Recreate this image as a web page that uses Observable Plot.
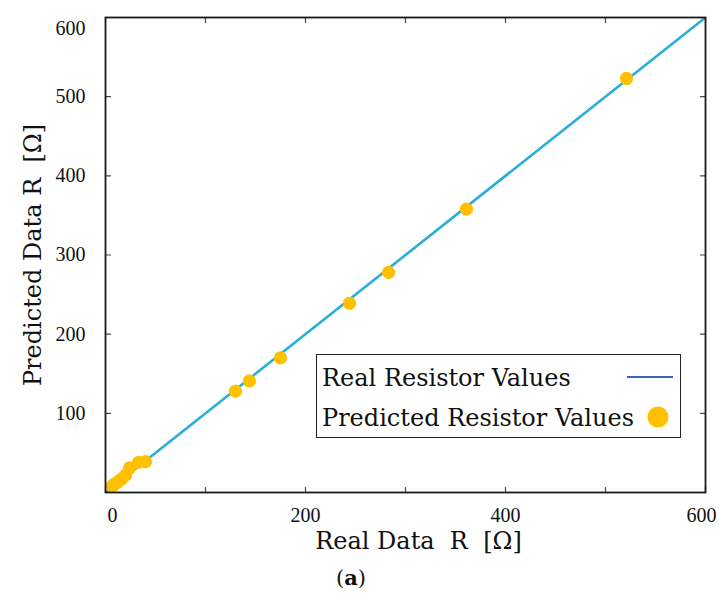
<!DOCTYPE html>
<html>
<head>
<meta charset="utf-8">
<script src="https://cdn.jsdelivr.net/npm/d3@7"></script>
<script src="https://cdn.jsdelivr.net/npm/@observablehq/plot@0.6"></script>
<style>
  body { margin: 0; background: #fff; }
  #wrap { position: relative; width: 719px; height: 599px; font-family: "DejaVu Serif", "Liberation Serif", serif; }
  #legend { position: absolute; left: 316px; top: 354px; width: 363px; height: 82px; border: 1.5px solid #222; background: #fff; }
  .lg { position: absolute; left: 5px; font-size: 24px; line-height: 24px; color: #111; white-space: nowrap; }
  #caption { position: absolute; left: 0; top: 565px; width: 702px; text-align: center; font-size: 21px; color: #111; }
</style>
</head>
<body>
<div id="wrap">
  <div id="chart"></div>
  <div id="legend">
    <div class="lg" style="top:11px">Real Resistor Values</div>
    <svg style="position:absolute;left:310px;top:20px" width="48" height="4"><line x1="0" y1="2" x2="46" y2="2" stroke="#3566b4" stroke-width="2.2"/></svg>
    <div class="lg" style="top:51px">Predicted Resistor Values</div>
    <svg style="position:absolute;left:329px;top:50px" width="24" height="24"><circle cx="12" cy="12" r="10.5" fill="#FFC000"/></svg>
  </div>
  <div id="caption">(<b>a</b>)</div>
</div>
<script>
// Data
const realR = [7, 8, 12, 16, 20, 24, 33, 40, 130, 144, 175, 244, 283, 361, 521];
const predR = [8, 10, 13, 17, 22, 31, 38, 39, 128, 141, 170, 239, 278, 358, 523];
const refLine = [0, 600];           // y = x reference line
const xTicks = [0, 100, 200, 300, 400, 500, 600];
const xLabelsMid = [200, 400];
const yTicks = [0, 100, 200, 300, 400, 500, 600];
const yLabelsMid = [100, 200, 300, 400, 500];
const xTitle = "Real Data\u00a0\u00a0R\u00a0\u00a0[Ω]";
const yTitle = "Predicted Data R\u00a0\u00a0[Ω]";

const points = realR.map((r, i) => ({real: r, pred: predR[i]}));
const lineData = refLine.map(v => ({real: v, pred: v}));

const tickShape = {draw(context, l) { context.moveTo(0, 0); context.lineTo(0, -l); }};
const tickOpts = {length: 5, anchor: "start", shape: tickShape, stroke: "#444", strokeWidth: 1.2};
const tickFont = {fontSize: 20, fontFamily: "'Liberation Serif', serif", tickSize: 0, label: null};
const titleFont = {fontSize: 24, fontFamily: "'DejaVu Serif', serif", fill: "#111"};

const chart = Plot.plot({
  width: 719,
  height: 560,
  marginLeft: 105,
  marginRight: 14,
  marginTop: 17,
  marginBottom: 68,
  style: {fontFamily: "'Liberation Serif', serif", color: "#111", background: "#fff"},
  x: {domain: [0, 600]},
  y: {domain: [0, 600]},
  marks: [
    Plot.line(lineData, {x: "real", y: "pred", stroke: "#2aaed9", strokeWidth: 2.6, clip: true}),
    Plot.dot(points, {x: "real", y: "pred", r: 6.6, fill: "#FFC000"}),
    Plot.vector(xTicks, {...tickOpts, x: d => d, frameAnchor: "bottom", rotate: 0}),
    Plot.vector(xTicks, {...tickOpts, x: d => d, frameAnchor: "top", rotate: 180}),
    Plot.vector(yTicks, {...tickOpts, y: d => d, frameAnchor: "left", rotate: 90}),
    Plot.vector(yTicks, {...tickOpts, y: d => d, frameAnchor: "right", rotate: -90}),
    Plot.frame({stroke: "#1a1a1a", strokeWidth: 1.8}),
    Plot.axisX(xLabelsMid, {...tickFont, anchor: "bottom", tickPadding: 15}),
    Plot.axisX([xTicks[0]], {...tickFont, anchor: "bottom", tickPadding: 15, dx: 7}),
    Plot.axisX([xTicks[xTicks.length - 1]], {...tickFont, anchor: "bottom", tickPadding: 15, dx: -4}),
    Plot.axisY(yLabelsMid, {...tickFont, anchor: "left", tickPadding: 20}),
    Plot.axisY([yTicks[yTicks.length - 1]], {...tickFont, anchor: "left", tickPadding: 20, dy: 11}),
    Plot.text([xTitle], {...titleFont, frameAnchor: "bottom", dy: 56, dx: 13}),
    Plot.text([yTitle], {...titleFont, frameAnchor: "left", textAnchor: "middle", dx: -72, rotate: -90})
  ]
});
document.getElementById("chart").appendChild(chart);
</script>
</body>
</html>
